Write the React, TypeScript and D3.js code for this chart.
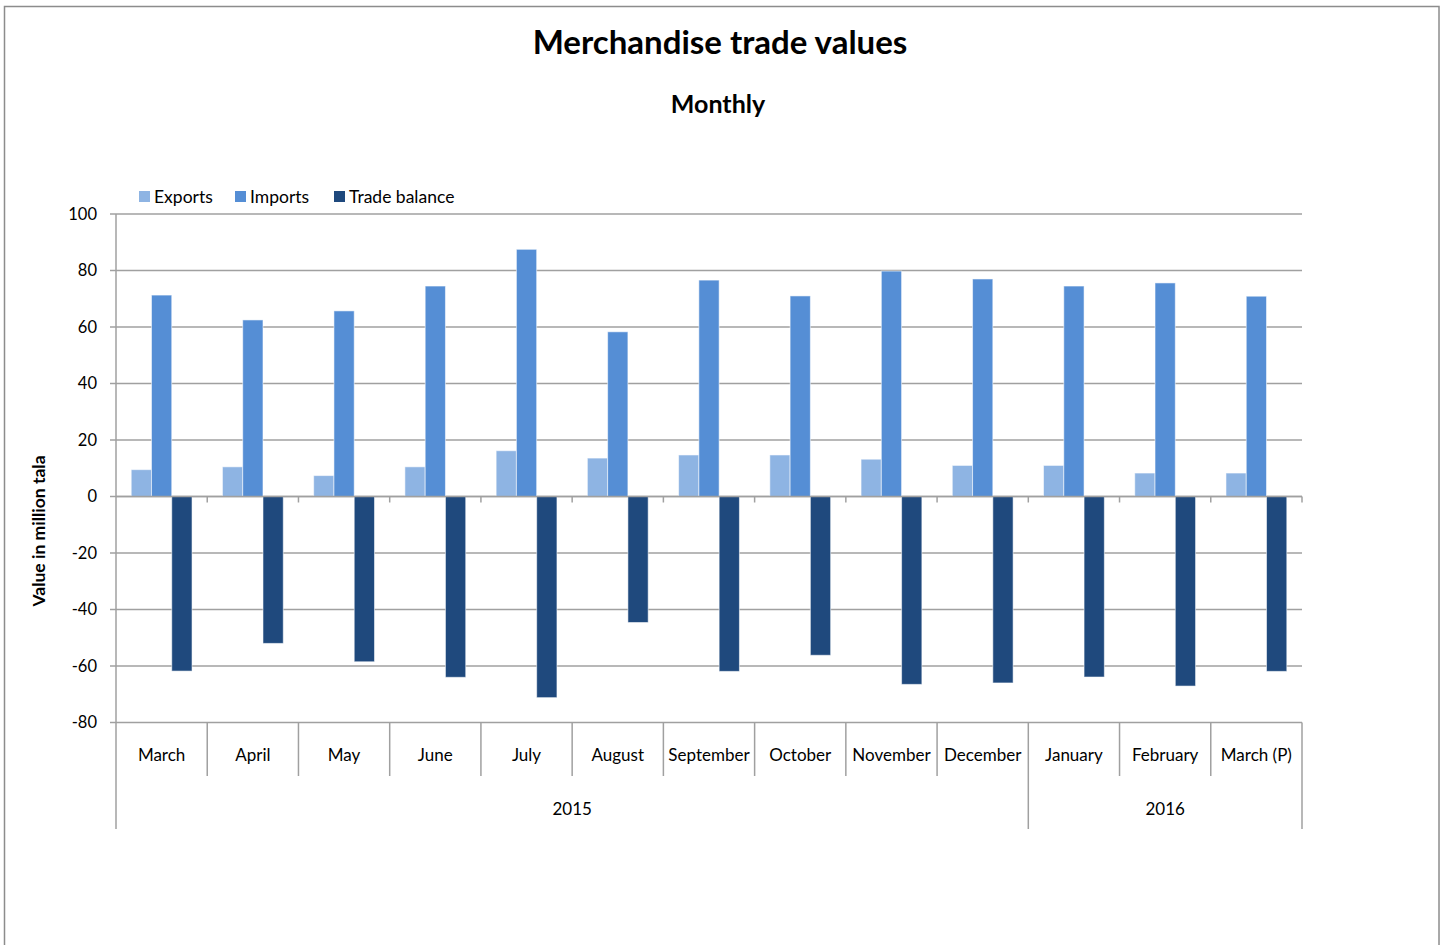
import React from "react";
import * as d3 from "d3";

const months = ["March", "April", "May", "June", "July", "August", "September", "October", "November", "December", "January", "February", "March (P)"];
const years = [
  { label: "2015", start: 0, end: 10 },
  { label: "2016", start: 10, end: 13 },
];
const exportsVals = [9.5, 10.5, 7.4, 10.5, 16.2, 13.6, 14.7, 14.7, 13.2, 11.0, 11.0, 8.3, 8.3];
const importsVals = [71.3, 62.5, 65.7, 74.5, 87.5, 58.3, 76.6, 71.0, 79.8, 77.0, 74.5, 75.6, 70.9];
const balanceVals = [-61.8, -52.0, -58.5, -64.0, -71.2, -44.6, -61.9, -56.2, -66.5, -66.0, -63.9, -67.1, -61.9];
const seriesNames = ["Exports", "Imports", "Trade balance"];
const seriesColors = ["#8EB4E3", "#558ED5", "#1F497D"];
const yTicks = [100, 80, 60, 40, 20, 0, -20, -40, -60, -80];

export default function App() {
  const W = 1443, H = 945;
  const left = 116, right = 1302;
  const font = "Lato, 'Open Sans', sans-serif";
  const y = d3.scaleLinear().domain([-80, 100]).range([722.5, 214]);
  const x = d3.scaleBand<string>().domain(months.map((m, i) => i + "")).range([left, right]).paddingInner(0).paddingOuter(0);
  const step = x.step();
  const bw = step / 4.5;
  const inner = d3.scaleBand<string>().domain(seriesNames).range([0, 3 * bw]);
  const off = (step - 3 * bw) / 2;
  const data = [exportsVals, importsVals, balanceVals];
  const y0 = y(0);
  const yBottom = y(-80);
  const catRowBottom = 776;
  const yearRowBottom = 829;
  const grid = "#A0A0A0";

  const legendItems = [
    { name: seriesNames[0], x: 139 },
    { name: seriesNames[1], x: 235 },
    { name: seriesNames[2], x: 334 },
  ];

  return (
    <svg width={W} height={H} style={{ position: "absolute", left: 0, top: 0, background: "#fff" }} fontFamily={font}>
      <rect x={4.5} y={6.5} width={1434.5} height={1000} fill="#fff" stroke="#8C8C8C" strokeWidth={1.5} />
      <text x={720} y={54} textAnchor="middle" fontSize={33} fontWeight="bold" fill="#000">Merchandise trade values</text>
      <text x={718} y={113} textAnchor="middle" fontSize={25} fontWeight="bold" fill="#000">Monthly</text>

      {/* gridlines */}
      {yTicks.map((t) => (
        <g key={t}>
          <line x1={left} x2={right} y1={y(t)} y2={y(t)} stroke={grid} strokeWidth={1.5} />
          <line x1={left - 6} x2={left} y1={y(t)} y2={y(t)} stroke={grid} strokeWidth={1.5} />
          <text x={97} y={y(t)} dy="0.35em" textAnchor="end" fontSize={16.5} fill="#000">{t}</text>
        </g>
      ))}
      <line x1={left} x2={left} y1={y(100)} y2={yearRowBottom} stroke={grid} strokeWidth={1.5} />
      <line x1={right} x2={right} y1={yBottom} y2={yearRowBottom} stroke={grid} strokeWidth={1.5} />

      {/* bars */}
      {data.map((vals, si) =>
        vals.map((v, i) => {
          const bx = (x(i + "") as number) + off + (inner(seriesNames[si]) as number);
          const top = Math.min(y(v), y0);
          const h = Math.abs(y(v) - y0);
          return (
            <rect key={si + "-" + i} x={bx} y={top} width={inner.bandwidth()} height={h}
              fill={seriesColors[si]} stroke="#fff" strokeOpacity={0.55} strokeWidth={1} />
          );
        })
      )}

      {/* zero axis ticks */}
      <line x1={left} x2={right} y1={y0} y2={y0} stroke={grid} strokeWidth={1.5} />
      {months.map((m, i) => i > 0 ? (
        <line key={"zt" + i} x1={x(i + "")} x2={x(i + "")} y1={y0} y2={y0 + 6} stroke={grid} strokeWidth={1.5} />
      ) : null)}
      <line x1={right} x2={right} y1={y0} y2={y0 + 6} stroke={grid} strokeWidth={1.5} />

      {/* category labels */}
      {months.map((m, i) => (
        <g key={"c" + i}>
          {i > 0 && (
            <line x1={x(i + "")} x2={x(i + "")} y1={yBottom} y2={catRowBottom} stroke={grid} strokeWidth={1.5} />
          )}
          <text x={(x(i + "") as number) + step / 2} y={755} dy="0.35em" textAnchor="middle" fontSize={17} fill="#000">{m}</text>
        </g>
      ))}
      {years.map((yr) => {
        const x1 = left + yr.start * step;
        const x2 = left + yr.end * step;
        return (
          <g key={yr.label}>
            {yr.start > 0 && <line x1={x1} x2={x1} y1={catRowBottom} y2={yearRowBottom} stroke={grid} strokeWidth={1.5} />}
            <text x={(x1 + x2) / 2} y={809} dy="0.35em" textAnchor="middle" fontSize={17} fill="#000">{yr.label}</text>
          </g>
        );
      })}

      {/* y axis title */}
      <text transform="translate(45,531) rotate(-90)" textAnchor="middle" fontSize={17.5} fontWeight="bold" fill="#000">Value in million tala</text>

      {/* legend */}
      {legendItems.map((it, i) => (
        <g key={it.name}>
          <rect x={it.x} y={191} width={11} height={11} fill={seriesColors[i]} />
          <text x={it.x + 15} y={196.5} dy="0.35em" fontSize={17.5} fill="#000">{it.name}</text>
        </g>
      ))}
    </svg>
  );
}
